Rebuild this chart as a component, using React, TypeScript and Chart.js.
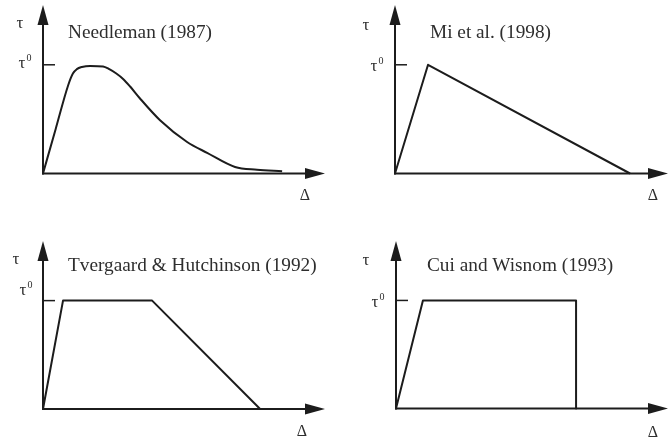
import React, { useEffect, useRef } from "react";
import { Chart, registerables } from "chart.js";

Chart.register(...registerables);

// Traction (τ / τ⁰) versus separation Δ for four cohesive-zone laws
const needlemanSlip = [0, 0.45, 0.89, 1.06, 1.2, 1.38, 1.67, 2.13, 2.35, 2.6, 2.84, 3.09, 3.44, 4.15, 5.11, 5.82, 6.81, 7.59, 8.48];
const needlemanTraction = [0, 0.41, 0.81, 0.92, 0.96, 0.98, 0.99, 0.985, 0.96, 0.92, 0.87, 0.8, 0.69, 0.49, 0.29, 0.19, 0.06, 0.035, 0.02];

const miSlip = [0, 1.21, 8.61];
const miTraction = [0, 1, 0];

const tvergaardSlip = [0, 0.71, 3.87, 7.7];
const tvergaardTraction = [0, 1, 1, 0];

const cuiSlip = [0, 0.99, 6.62, 6.62];
const cuiTraction = [0, 1, 1, 0];

const panelTitles = ["Needleman (1987)", "Mi et al. (1998)", "Tvergaard & Hutchinson (1992)", "Cui and Wisnom (1993)"];

const INK = "#1c1c1c";
const TEXT = "#2e2e2e";
const SERIF = '"Liberation Serif", "DejaVu Serif", serif';

type Offsets = {
  tau: [number, number];
  tau0: [number, number];
  delta: [number, number];
  title: [number, number];
};

type PanelSpec = {
  title: string;
  slip: number[];
  traction: number[];
  smooth: boolean;
  left: number;
  top: number;
  width: number;
  height: number;
  padding: { left: number; right: number; top: number; bottom: number };
  offsets: Offsets;
};

const axesPlugin = {
  id: "cohesiveAxes",
  afterDatasetsDraw(chart: any, _args: any, opts: any) {
    const { ctx, chartArea, scales } = chart;
    const x0 = scales.x.getPixelForValue(0);
    const y0 = scales.y.getPixelForValue(0);
    const yPeak = scales.y.getPixelForValue(1);
    const top = chartArea.top;
    const right = chartArea.right;
    const arrowLen = 20;
    const arrowHalf = 5.5;
    const o: Offsets = opts.offsets;

    ctx.save();
    ctx.strokeStyle = INK;
    ctx.fillStyle = INK;
    ctx.lineWidth = 2;
    ctx.lineCap = "butt";

    // vertical axis with arrow head
    ctx.beginPath();
    ctx.moveTo(x0, y0 + 1);
    ctx.lineTo(x0, top + arrowLen - 2);
    ctx.stroke();
    ctx.beginPath();
    ctx.moveTo(x0, top);
    ctx.lineTo(x0 - arrowHalf, top + arrowLen);
    ctx.lineTo(x0 + arrowHalf, top + arrowLen);
    ctx.closePath();
    ctx.fill();

    // horizontal axis with arrow head
    ctx.beginPath();
    ctx.moveTo(x0 - 1, y0);
    ctx.lineTo(right - arrowLen + 2, y0);
    ctx.stroke();
    ctx.beginPath();
    ctx.moveTo(right, y0);
    ctx.lineTo(right - arrowLen, y0 - arrowHalf);
    ctx.lineTo(right - arrowLen, y0 + arrowHalf);
    ctx.closePath();
    ctx.fill();

    // peak-traction tick
    ctx.lineWidth = 1.5;
    ctx.beginPath();
    ctx.moveTo(x0, yPeak);
    ctx.lineTo(x0 + 12, yPeak);
    ctx.stroke();

    // labels
    ctx.fillStyle = TEXT;
    ctx.textBaseline = "middle";
    ctx.textAlign = "center";
    ctx.font = `17px ${SERIF}`;
    ctx.fillText("τ", x0 + o.tau[0], top + o.tau[1]);
    ctx.fillText("τ", x0 + o.tau0[0], yPeak + o.tau0[1]);
    ctx.font = `10px ${SERIF}`;
    ctx.fillText("0", x0 + o.tau0[0] + 7, yPeak + o.tau0[1] - 5);
    ctx.font = `16px ${SERIF}`;
    ctx.fillText("Δ", right + o.delta[0], y0 + o.delta[1]);

    ctx.textAlign = "left";
    ctx.font = `19.3px ${SERIF}`;
    ctx.fillText(opts.title, x0 + o.title[0], top + o.title[1]);
    ctx.restore();
  },
};

const panels: PanelSpec[] = [
  {
    title: panelTitles[0],
    slip: needlemanSlip,
    traction: needlemanTraction,
    smooth: true,
    left: 0,
    top: 0,
    width: 335,
    height: 221,
    padding: { left: 43, right: 10, top: 5, bottom: 47.5 },
    offsets: { tau: [-23, 19], tau0: [-21, -1], delta: [-20, 22.5], title: [25, 28] },
  },
  {
    title: panelTitles[1],
    slip: miSlip,
    traction: miTraction,
    smooth: false,
    left: 335,
    top: 0,
    width: 334,
    height: 221,
    padding: { left: 60, right: 1, top: 5, bottom: 47.5 },
    offsets: { tau: [-29, 21], tau0: [-21, 2], delta: [-15, 22.5], title: [35, 28] },
  },
  {
    title: panelTitles[2],
    slip: tvergaardSlip,
    traction: tvergaardTraction,
    smooth: false,
    left: 0,
    top: 221,
    width: 335,
    height: 221,
    padding: { left: 43, right: 10, top: 20, bottom: 33 },
    offsets: { tau: [-27, 19], tau0: [-20, -10], delta: [-23, 23], title: [25, 25] },
  },
  {
    title: panelTitles[3],
    slip: cuiSlip,
    traction: cuiTraction,
    smooth: false,
    left: 335,
    top: 221,
    width: 334,
    height: 221,
    padding: { left: 61, right: 1, top: 20, bottom: 33.5 },
    offsets: { tau: [-30, 20], tau0: [-21, 2], delta: [-15, 24], title: [31, 25] },
  },
];

function Panel({ spec }: { spec: PanelSpec }) {
  const ref = useRef<HTMLCanvasElement | null>(null);

  useEffect(() => {
    if (!ref.current) return;
    const points = spec.slip.map((x, i) => ({ x, y: spec.traction[i] }));
    const chart = new Chart(ref.current, {
      type: "line",
      data: {
        datasets: [
          {
            data: points,
            borderColor: INK,
            borderWidth: 2,
            borderJoinStyle: "round",
            pointRadius: 0,
            fill: false,
            clip: false,
            cubicInterpolationMode: spec.smooth ? "monotone" : "default",
            tension: 0,
          } as any,
        ],
      },
      options: {
        responsive: false,
        animation: false,
        devicePixelRatio: 1,
        layout: { padding: spec.padding },
        scales: {
          x: { type: "linear", min: 0, max: 10, display: false },
          y: { type: "linear", min: 0, max: 1.55, display: false },
        },
        plugins: {
          legend: { display: false },
          tooltip: { enabled: false },
          cohesiveAxes: { offsets: spec.offsets, title: spec.title },
        } as any,
      },
      plugins: [axesPlugin],
    });
    return () => chart.destroy();
  }, [spec]);

  return (
    <canvas
      ref={ref}
      width={spec.width}
      height={spec.height}
      style={{ position: "absolute", left: spec.left, top: spec.top, width: spec.width, height: spec.height }}
    />
  );
}

export default function App() {
  return (
    <div style={{ position: "absolute", left: 0, top: 0, width: 669, height: 442, background: "#ffffff", overflow: "hidden" }}>
      {panels.map((p) => (
        <Panel key={p.title} spec={p} />
      ))}
    </div>
  );
}
